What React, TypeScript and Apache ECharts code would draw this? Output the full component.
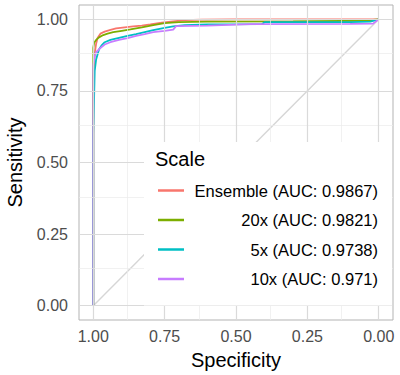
import React, { useEffect, useRef } from "react";
import * as echarts from "echarts";

const seriesNames = [
  "Ensemble (AUC: 0.9867)",
  "20x (AUC: 0.9821)",
  "5x (AUC: 0.9738)",
  "10x (AUC: 0.971)",
];
const seriesColors = ["#F8766D", "#7CAE00", "#00BFC4", "#C77CFF"];

const ensembleSpec = [1, 1, 0.995, 0.99, 0.985, 0.975, 0.96, 0.94, 0.92, 0.89, 0.86, 0.83, 0.8, 0.76, 0.72, 0.68, 0.62, 0.5, 0];
const ensembleSens = [0, 0.8, 0.88, 0.915, 0.935, 0.95, 0.957, 0.963, 0.968, 0.972, 0.975, 0.978, 0.982, 0.988, 0.993, 0.997, 0.999, 1, 1];

const x20Spec = [1, 1, 0.997, 0.99, 0.98, 0.965, 0.95, 0.93, 0.9, 0.87, 0.83, 0.79, 0.75, 0.7, 0.6, 0.3, 0.05, 0];
const x20Sens = [0, 0.9, 0.918, 0.928, 0.937, 0.945, 0.95, 0.955, 0.96, 0.965, 0.972, 0.98, 0.987, 0.99, 0.992, 0.993, 0.995, 1];

const x5Spec = [1, 1, 0.995, 0.99, 0.98, 0.97, 0.96, 0.94, 0.91, 0.88, 0.85, 0.82, 0.79, 0.75, 0.72, 0.68, 0.6, 0.41, 0.4, 0.1, 0.03, 0];
const x5Sens = [0, 0.6, 0.82, 0.86, 0.895, 0.91, 0.92, 0.928, 0.935, 0.942, 0.948, 0.955, 0.962, 0.97, 0.975, 0.98, 0.982, 0.983, 0.99, 0.99, 0.992, 1];

const x10Spec = [1, 1, 0.995, 0.99, 0.975, 0.96, 0.94, 0.91, 0.88, 0.85, 0.82, 0.79, 0.75, 0.72, 0.71, 0.6, 0.45, 0.1, 0.02, 0];
const x10Sens = [0, 0.84, 0.87, 0.885, 0.9, 0.912, 0.92, 0.928, 0.934, 0.942, 0.948, 0.955, 0.96, 0.964, 0.976, 0.978, 0.983, 0.984, 0.985, 1];

const allSpec = [ensembleSpec, x20Spec, x5Spec, x10Spec];
const allSens = [ensembleSens, x20Sens, x5Sens, x10Sens];

const majorBreaks = [0, 0.25, 0.5, 0.75, 1];
const minorBreaks = [0.125, 0.375, 0.625, 0.875];
const diagSpec = [1, 0];
const diagSens = [0, 1];

const FONT = "'Liberation Sans', Arial, Helvetica, sans-serif";

export default function App() {
  const ref = useRef<HTMLDivElement>(null);
  useEffect(() => {
    if (!ref.current) return;
    const chart = echarts.init(ref.current, undefined, { renderer: "svg" });
    const gridLineData = [
      ...minorBreaks.map((v) => ({ xAxis: v, lineStyle: { color: "#EBEBEB", width: 0.7, type: "solid" } })),
      ...minorBreaks.map((v) => ({ yAxis: v, lineStyle: { color: "#EBEBEB", width: 0.7, type: "solid" } })),
      ...majorBreaks.map((v) => ({ xAxis: v, lineStyle: { color: "#DADADA", width: 1.2, type: "solid" } })),
      ...majorBreaks.map((v) => ({ yAxis: v, lineStyle: { color: "#DADADA", width: 1.2, type: "solid" } })),
    ];
    const curves = allSpec.map((spec, i) => ({
      type: "line",
      name: seriesNames[i],
      data: spec.map((s, j) => [s, allSens[i][j]]),
      showSymbol: false,
      symbol: "none",
      color: seriesColors[i],
      lineStyle: { color: seriesColors[i], width: 1.8 },
      z: 3,
      silent: true,
    }));
    chart.setOption({
      animation: false,
      backgroundColor: "#ffffff",
      textStyle: { fontFamily: FONT },
      grid: {
        left: 79,
        right: 7,
        top: 5,
        bottom: 55,
        show: true,
        containLabel: false,
        outerBoundsMode: "none",
        borderColor: "#B3B3B3",
        borderWidth: 1,
        backgroundColor: "transparent",
      },
      xAxis: {
        type: "value",
        inverse: true,
        min: -0.05,
        max: 1.05,
        name: "Specificity",
        nameLocation: "middle",
        nameGap: 30,
        nameTextStyle: { fontSize: 20, color: "#000000", fontFamily: FONT },
        axisLine: { show: false },
        axisTick: { show: true, length: 4, lineStyle: { color: "#B3B3B3" }, customValues: majorBreaks },
        axisLabel: {
          customValues: majorBreaks,
          formatter: (v: number) => v.toFixed(2),
          fontSize: 16,
          color: "#4D4D4D",
          margin: 8,
          fontFamily: FONT,
        },
        splitLine: { show: false },
      },
      yAxis: {
        type: "value",
        min: -0.05,
        max: 1.05,
        name: "Sensitivity",
        nameLocation: "middle",
        nameGap: 54,
        nameTextStyle: { fontSize: 20, color: "#000000", fontFamily: FONT },
        axisLine: { show: false },
        axisTick: { show: true, length: 4, lineStyle: { color: "#B3B3B3" }, customValues: majorBreaks },
        axisLabel: {
          customValues: majorBreaks,
          formatter: (v: number) => v.toFixed(2),
          fontSize: 16,
          color: "#4D4D4D",
          margin: 11,
          fontFamily: FONT,
        },
        splitLine: { show: false },
      },
      legend: {
        data: seriesNames,
        orient: "vertical",
        left: 144,
        top: 142,
        backgroundColor: "#ffffff",
        padding: [40, 14, 18, 14],
        icon: "rect",
        itemWidth: 26,
        itemHeight: 2.5,
        itemGap: 12.5,
        selectedMode: false,
        z: 10,
        formatter: (name: string) => `{a|${name}}`,
        textStyle: {
          fontFamily: FONT,
          rich: {
            a: { width: 189, align: "right", fontSize: 16.5, lineHeight: 20, color: "#000000", fontFamily: FONT },
          },
        },
      },
      graphic: [
        {
          type: "text",
          left: 155,
          top: 149,
          z: 100,
          style: { text: "Scale", fontSize: 20, fill: "#000000", fontFamily: FONT },
        },
      ],
      series: [
        {
          type: "line",
          name: "grid",
          data: [],
          silent: true,
          z: 0,
          markLine: {
            silent: true,
            symbol: "none",
            label: { show: false },
            animation: false,
            data: gridLineData,
          },
        },
        {
          type: "line",
          name: "diag",
          data: diagSpec.map((s, j) => [s, diagSens[j]]),
          showSymbol: false,
          symbol: "none",
          lineStyle: { color: "#D6D6D6", width: 1.4 },
          z: 1,
          silent: true,
        },
        ...curves,
      ],
    });
    return () => chart.dispose();
  }, []);
  return (
    <div
      ref={ref}
      style={{ position: "fixed", left: 0, top: 0, width: 400, height: 375 }}
    />
  );
}
